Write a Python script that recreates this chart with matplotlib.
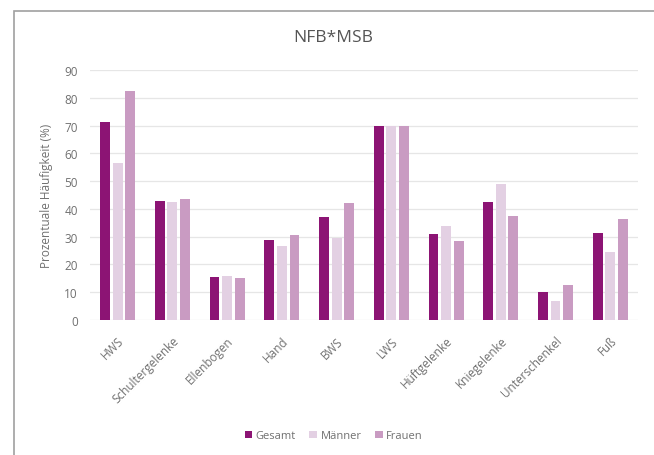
import matplotlib
matplotlib.use('Agg')
import matplotlib.pyplot as plt
import numpy as np
from matplotlib.patches import Rectangle

plt.rcParams['font.family'] = ['Open Sans', 'DejaVu Sans']

# Daten
koerperregionen = ['HWS', 'Schultergelenke', 'Ellenbogen', 'Hand', 'BWS', 'LWS',
                   'Hüftgelenke', 'Kniegelenke', 'Unterschenkel', 'Fuß']
gesamt = [71.5, 43, 15.5, 29, 37, 70, 31, 42.5, 10, 31.5]
maenner = [56.5, 42.5, 16, 26.5, 29.5, 70, 34, 49, 7, 24.5]
frauen = [82.5, 43.5, 15, 30.5, 42, 70, 28.5, 37.5, 12.5, 36.5]
serien = ['Gesamt', 'Männer', 'Frauen']
farben = ['#8c1474', '#e3d0e3', '#c99bc2']

fig = plt.figure(figsize=(6.54, 4.56), dpi=100)
ax = fig.add_axes([0.138, 0.296, 0.837, 0.548])

# Rahmen um das Diagramm
fig.patches.append(Rectangle((14 / 654, -0.05), 1.0, 1 - 12 / 456 + 0.05,
                             transform=fig.transFigure, fill=False,
                             edgecolor='#a0a0a0', linewidth=1.2))

x = np.arange(len(koerperregionen))
breite = 0.18
abstand = 0.23
for i, (werte, name, farbe) in enumerate(zip([gesamt, maenner, frauen], serien, farben)):
    ax.bar(x + (i - 1) * abstand, werte, breite, color=farbe, label=name, zorder=3)

ax.set_ylim(0, 90)
ax.set_xlim(-0.5, len(koerperregionen) - 0.5)
ax.set_yticks(range(0, 91, 10))
ax.yaxis.grid(True, color='#e6e6e6', linewidth=0.9, zorder=0)
for s in ax.spines.values():
    s.set_visible(False)
ax.tick_params(axis='both', length=0, colors='#707070', labelsize=8.5)
ax.tick_params(axis='x', pad=10)
ax.tick_params(axis='y', pad=9)
ax.set_xticks(x)
ax.set_xticklabels(koerperregionen, rotation=45, ha='right', rotation_mode='anchor')
ax.set_ylabel('Prozentuale Häufigkeit (%)', color='#707070', fontsize=8.5, labelpad=8)

fig.text(0.51, 0.917, 'NFB*MSB', ha='center', va='center', fontsize=12.5, color='#555555')

fig.legend(loc='center', bbox_to_anchor=(0.51, 0.042), ncol=3, frameon=False,
           fontsize=8, handlelength=0.7, handleheight=0.7, handletextpad=0.3,
           columnspacing=1.2, labelcolor='#707070')

fig.savefig('out.png', dpi=100)
